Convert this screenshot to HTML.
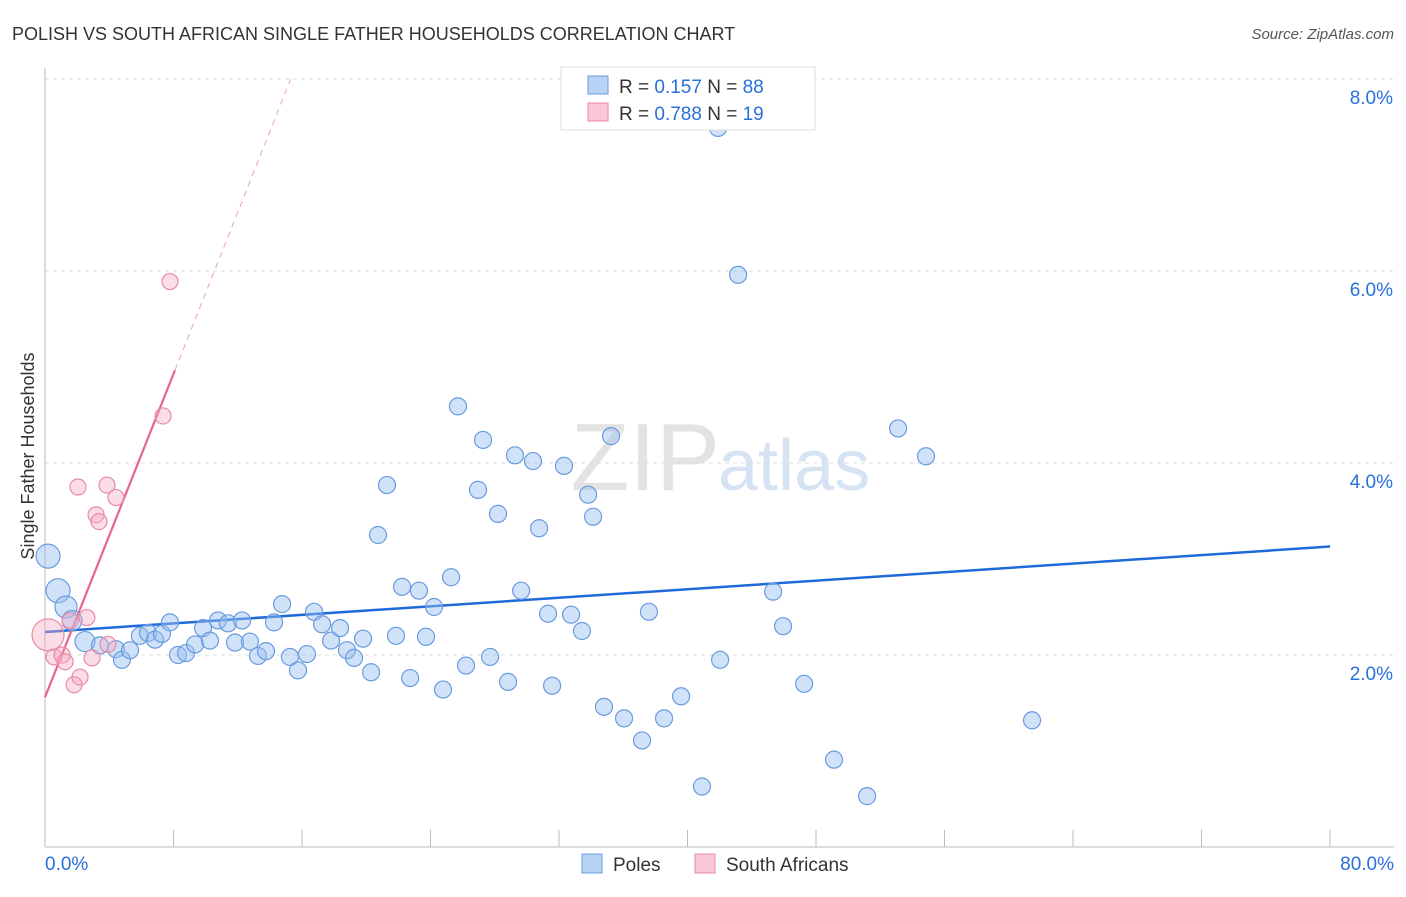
<!DOCTYPE html>
<html><head><meta charset="utf-8"><style>
body{margin:0;background:#fff;font-family:"Liberation Sans",sans-serif;}
svg text{font-family:"Liberation Sans",sans-serif;}
</style></head><body>
<svg id="chart" width="1406" height="892" xmlns="http://www.w3.org/2000/svg">
<text x="12" y="40" font-size="18" fill="#333">POLISH VS SOUTH AFRICAN SINGLE FATHER HOUSEHOLDS CORRELATION CHART</text>
<text x="1394" y="39" font-size="15" fill="#555" text-anchor="end" font-style="italic">Source: ZipAtlas.com</text>
<text x="720" y="490" font-size="96" fill="#e3e3e3" text-anchor="end" font-family="Liberation Serif">ZIP</text>
<text x="718" y="490" font-size="72" fill="#d6e3f3">atlas</text>
<text transform="translate(34,456) rotate(-90)" font-size="18" fill="#333" text-anchor="middle">Single Father Households</text>
<g id="grid"></g><g id="axes"></g><g id="lines"></g><g id="pts"></g>
<g>
<rect x="561" y="67" width="254" height="63" fill="#fff" stroke="#ddd"/>
<rect x="588" y="76" width="20" height="18" fill="#b8d3f5" stroke="#6a9be0"/>
<text x="619" y="93" font-size="19" fill="#333">R = <tspan fill="#2a6fdb">0.157</tspan>   N = <tspan fill="#2a6fdb">88</tspan></text>
<rect x="588" y="103" width="20" height="18" fill="#f8c8d6" stroke="#e88aa5"/>
<text x="619" y="120" font-size="19" fill="#333">R = <tspan fill="#2a6fdb">0.788</tspan>   N = <tspan fill="#2a6fdb">19</tspan></text>
</g>
<g>
<rect x="582" y="854" width="20" height="19" fill="#b8d3f5" stroke="#6a9be0"/>
<text x="613" y="871" font-size="19" fill="#333">Poles</text>
<rect x="695" y="854" width="20" height="19" fill="#f8c8d6" stroke="#e88aa5"/>
<text x="726" y="871" font-size="19" fill="#333">South Africans</text>
</g>
</svg>
<script>
const yTicks=[2,4,6,8];
const yTickLabels=["2.0%","4.0%","6.0%","8.0%"];
const xTickLabels=["0.0%","80.0%"];
const polesX=[0.19,0.81,1.31,1.68,2.49,3.42,4.42,4.79,5.29,5.91,6.41,6.85,7.28,7.78,8.28,8.78,9.34,9.84,10.27,10.77,11.39,11.83,12.27,12.76,13.26,13.76,14.26,14.76,15.25,15.75,16.31,16.75,17.25,17.81,18.37,18.80,19.24,19.80,20.30,20.73,21.29,21.85,22.23,22.73,23.28,23.72,24.22,24.78,25.28,25.71,26.21,26.96,27.27,27.71,28.20,28.83,29.26,29.64,30.38,30.76,31.32,31.57,32.31,32.75,33.43,33.81,34.12,34.80,35.24,36.05,37.17,37.60,38.54,39.60,40.90,41.90,42.03,43.15,45.33,45.95,47.26,49.12,51.18,53.11,54.85,61.45];
const polesY=[3.03,2.67,2.50,2.36,2.14,2.10,2.06,1.95,2.05,2.20,2.23,2.16,2.22,2.34,2.00,2.02,2.11,2.28,2.15,2.36,2.33,2.13,2.36,2.14,1.99,2.04,2.34,2.53,1.98,1.84,2.01,2.45,2.32,2.15,2.28,2.05,1.97,2.17,1.82,3.25,3.77,2.20,2.71,1.76,2.67,2.19,2.50,1.64,2.81,4.59,1.89,3.72,4.24,1.98,3.47,1.72,4.08,2.67,4.02,3.32,2.43,1.68,3.97,2.42,2.25,3.67,3.44,1.46,4.28,1.34,1.11,2.45,1.34,1.57,0.63,7.49,1.95,5.96,2.66,2.30,1.70,0.91,0.53,4.36,4.07,1.32];
const polesR=[12,12,11,10,10];
const safX=[0.19,0.56,1.06,1.25,1.81,2.18,2.05,1.56,2.61,2.93,3.18,3.36,3.86,3.92,4.42,7.35,7.78];
const safY=[2.21,1.98,2.00,1.93,1.69,1.77,3.75,2.36,2.39,1.97,3.46,3.39,3.77,2.11,3.64,4.49,5.89];
const safR=[16];
const polesTrend=[2.24,3.13];
const safTrend=[1.56,0.421];
const X=v=>45+v/80*1285, Y=v=>847-v*96;
const NS="http://www.w3.org/2000/svg";
function mk(parent,tag,attrs){const e=document.createElementNS(NS,tag);for(const k in attrs)e.setAttribute(k,attrs[k]);document.getElementById(parent).appendChild(e);return e;}
yTicks.forEach((t,i)=>{
 const l=mk('grid','line',{x1:45,x2:1394,y1:Y(t),y2:Y(t),stroke:'#ddd','stroke-dasharray':'4,4'});
 
 
 const tx=mk('grid','text',{x:1393,y:Y(t)+25,'font-size':19,fill:'#2a6fdb','text-anchor':'end'});
 tx.textContent=yTickLabels[i];
 
 
});
const ax=mk('axes','line',{x1:45,x2:45,y1:68,y2:847,stroke:'#bbb'});


const bx=mk('axes','line',{x1:45,x2:1394,y1:847,y2:847,stroke:'#bbb'});


for(let i=0;i<=10;i++){const t=mk('axes','line',{x1:X(i*8),x2:X(i*8),y1:830,y2:847,stroke:'#bbb'});
 
 }
[[0,'start',45],[80,'end',1394]].forEach((d,i)=>{const t=mk('axes','text',{x:d[2],y:870,'font-size':19,fill:'#2a6fdb','text-anchor':d[1]});t.textContent=xTickLabels[i];
 
 });
polesX.forEach((x,i)=>{const c=mk('pts','circle',{cx:X(x),cy:Y(polesY[i]),r:polesR[i]||8.5,fill:'rgba(150,190,240,0.45)',stroke:'#6a9be0','stroke-width':1.2});
 
 });
safX.forEach((x,i)=>{const c=mk('pts','circle',{cx:X(x),cy:Y(safY[i]),r:safR[i]||8,fill:'rgba(245,170,195,0.4)',stroke:'#e88aa5','stroke-width':1.2});
 
 });
const bl=mk('lines','line',{x1:X(0),y1:Y(polesTrend[0]),x2:X(80),y2:Y(polesTrend[1]),stroke:'#1f6ad8','stroke-width':2.5});


const xe=8.09, xd=(8-safTrend[0])/safTrend[1];
const pl=mk('lines','line',{x1:X(0),y1:Y(safTrend[0]),x2:X(xe),y2:Y(safTrend[0]+safTrend[1]*xe),stroke:'#e8648c','stroke-width':2.2});


const pd=mk('lines','line',{x1:X(xe),y1:Y(safTrend[0]+safTrend[1]*xe),x2:X(xd),y2:Y(8),stroke:'#eca0b6','stroke-width':1,'stroke-dasharray':'6,5'});


</script>
</body></html>
